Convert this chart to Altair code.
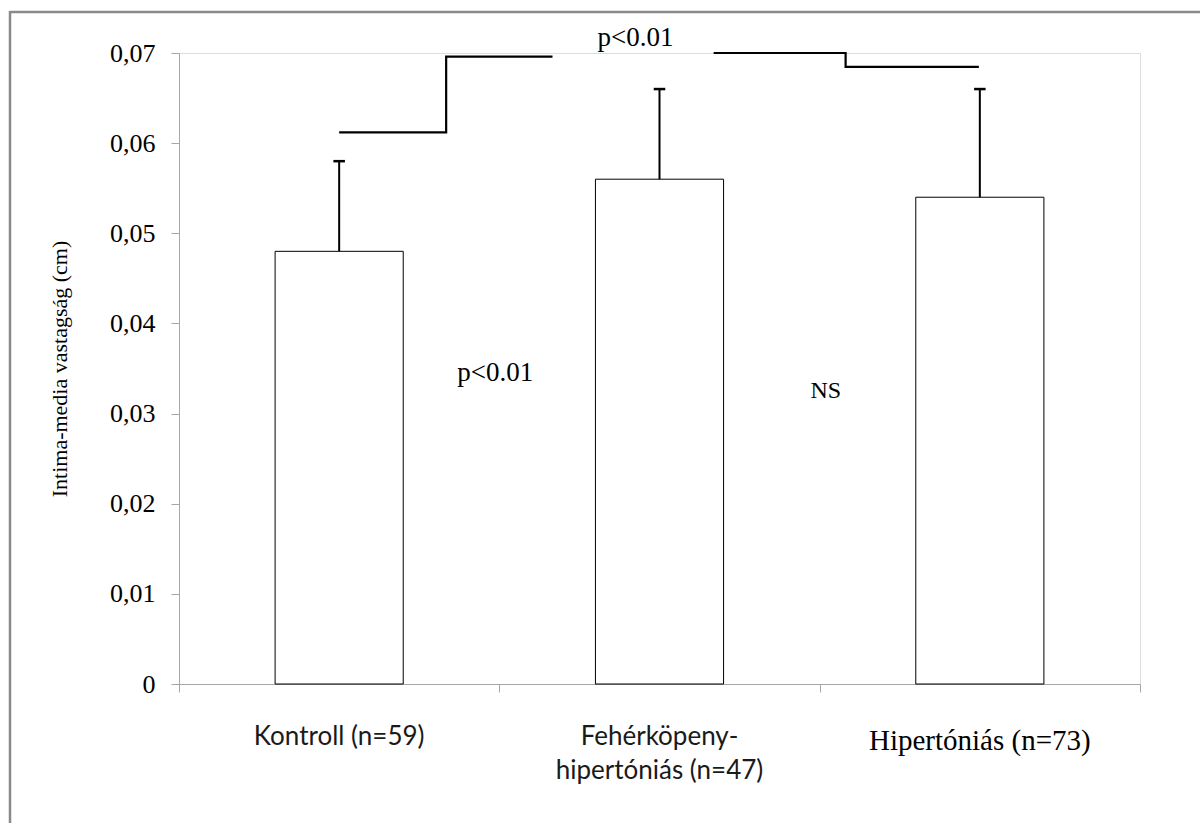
import altair as alt
import pandas as pd

# ---- data ----
categories = ["Kontroll (n=59)", "Fehérköpeny-\nhipertóniás (n=47)", "Hipertóniás (n=73)"]
means = [0.048, 0.056, 0.054]
errors = [0.010, 0.010, 0.012]
label_fonts = ["Lato", "Lato", "Liberation Serif"]

y_ticks = [0, 0.01, 0.02, 0.03, 0.04, 0.05, 0.06, 0.07]

# significance brackets (x in category units, y in cm)
left_bracket_x = [0.5, 0.834, 0.834, 1.166]
left_bracket_y = [0.0612, 0.0612, 0.0696, 0.0696]
right_bracket_x = [1.669, 2.081, 2.081, 2.497]
right_bracket_y = [0.0700, 0.0700, 0.06845, 0.06845]

sig_text = ["p<0.01", "p<0.01", "NS"]
sig_x = [1.425, 0.9875, 2.019]
sig_y = [0.0708, 0.0336, 0.0317]
sig_size = [27, 27, 24]

# ---- tables ----
bars = pd.DataFrame({
    "cat": categories,
    "x0": [i + 0.3 for i in range(3)],
    "x1": [i + 0.7 for i in range(3)],
    "xc": [i + 0.5 for i in range(3)],
    "cl": [i + 0.482 for i in range(3)],
    "cr": [i + 0.518 for i in range(3)],
    "mean": means,
    "top": [m + e for m, e in zip(means, errors)],
})

lab_rows = []
for i, (c, f) in enumerate(zip(categories, label_fonts)):
    for j, line in enumerate(c.split("\n")):
        lab_rows.append({"text": line, "xc": i + 0.5, "line": j, "font": f})
labels = pd.DataFrame(lab_rows)
labels["y"] = [-0.00672 if r.font != "Liberation Serif" else -0.00732 for r in labels.itertuples()]
labels.loc[labels["line"] == 1, "y"] = -0.01055

brackets = pd.DataFrame({
    "x": left_bracket_x + right_bracket_x,
    "y": left_bracket_y + right_bracket_y,
    "grp": ["L"] * 4 + ["R"] * 4,
    "ord": list(range(4)) + list(range(4)),
})

sig = pd.DataFrame({"text": sig_text, "x": sig_x, "y": sig_y, "size": sig_size})

xs = alt.Scale(domain=[0, 3], nice=False, zero=False)
ys = alt.Scale(domain=[0, 0.07], nice=False)

label_expr = "datum.value == 0 ? '0' : replace(format(datum.value, '.2f'), '.', ',')"

base = alt.Chart(bars)

bar_layer = base.mark_bar(fill="white", stroke="black", strokeWidth=1).encode(
    x=alt.X("x0:Q", scale=xs,
            axis=alt.Axis(values=[0, 1, 2, 3], labels=False, title=None, grid=False,
                          domainColor="#a6a6a6", tickColor="#a6a6a6", tickSize=8)),
    x2="x1:Q",
    y=alt.Y("mean:Q", scale=ys,
            axis=alt.Axis(values=y_ticks, labelExpr=label_expr, grid=False,
                          title="Intima-media vastagság (cm)",
                          titleFont="Liberation Serif", titleFontSize=22,
                          titleFontWeight="normal", titleColor="black",
                          titleX=-108, titleY=315.5,
                          labelFont="Liberation Serif", labelFontSize=26,
                          labelColor="black", labelPadding=16,
                          domainColor="#a6a6a6", tickColor="#a6a6a6", tickSize=8)),
    y2=alt.datum(0),
)

err_layer = base.mark_rule(color="black", strokeWidth=2).encode(
    x=alt.X("xc:Q", scale=xs), y=alt.Y("mean:Q", scale=ys), y2="top:Q")
cap_layer = base.mark_rule(color="black", strokeWidth=2.5).encode(
    x=alt.X("cl:Q", scale=xs), x2="cr:Q", y=alt.Y("top:Q", scale=ys))

bracket_layer = alt.Chart(brackets).mark_line(color="black", strokeWidth=2.2, interpolate="linear").encode(
    x=alt.X("x:Q", scale=xs), y=alt.Y("y:Q", scale=ys), detail="grp:N", order="ord:Q")

sig_layer = alt.Chart(sig).mark_text(font="Liberation Serif", color="black", align="center",
                                     baseline="alphabetic").encode(
    x=alt.X("x:Q", scale=xs), y=alt.Y("y:Q", scale=ys), text="text:N",
    size=alt.Size("size:Q", scale=None, legend=None))

sans_labels = alt.Chart(labels).transform_filter("datum.font == 'Lato'").mark_text(
    font="Lato", fontSize=26, color="#1a1a1a", align="center", baseline="alphabetic").encode(
    x=alt.X("xc:Q", scale=xs), y=alt.Y("y:Q", scale=ys), text="text:N")
serif_labels = alt.Chart(labels).transform_filter("datum.font == 'Liberation Serif'").mark_text(
    font="Liberation Serif", fontSize=29, color="black", align="center", baseline="alphabetic").encode(
    x=alt.X("xc:Q", scale=xs), y=alt.Y("y:Q", scale=ys), text="text:N")

frame_src = alt.Chart(pd.DataFrame({"k": [0]}))
frame_top = frame_src.mark_rule(color="#8a8a8a", strokeWidth=2.5).encode(
    x=alt.value(-169), x2=alt.value(1030), y=alt.value(-41))
frame_left = frame_src.mark_rule(color="#8a8a8a", strokeWidth=2.5).encode(
    x=alt.value(-169), y=alt.value(-42), y2=alt.value(780))

chart = alt.layer(
    bar_layer, err_layer, cap_layer, bracket_layer, sig_layer,
    sans_labels, serif_labels, frame_top, frame_left,
).properties(
    width=961, height=631,
    autosize=alt.AutoSizeParams(type="none"),
    padding={"left": 179, "top": 53, "right": 60, "bottom": 139},
).configure_view(stroke=None).configure(background="white")

chart.save("out.html", embed_options={"renderer": "svg", "actions": False})
